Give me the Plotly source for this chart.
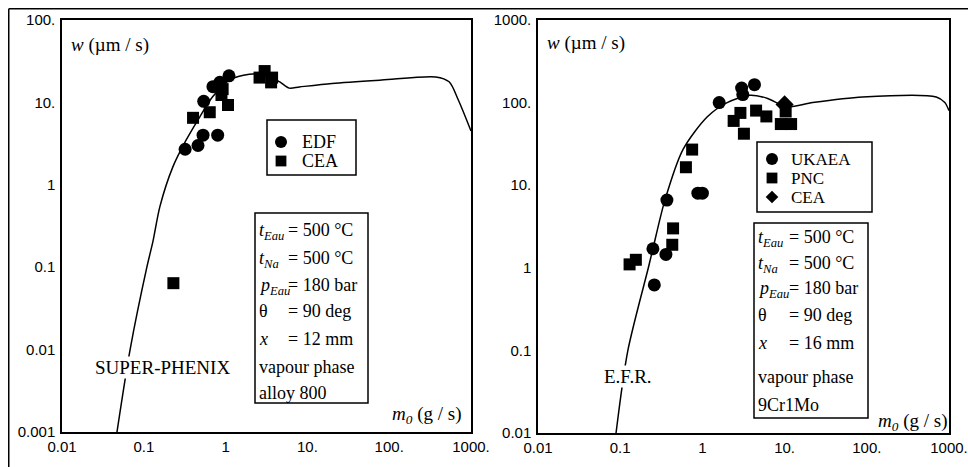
import plotly.graph_objects as go

W, H = 968, 467

# ---------------- data: left panel (SUPER-PHENIX) ----------------
sp_curve_m0 = [0.047, 0.068, 0.109, 0.13, 0.157, 0.226, 0.33, 0.48, 0.69, 1.12, 1.95, 3.2, 4.6, 6.0, 8.0, 20, 81, 370, 540, 700, 1000]
sp_curve_w = [0.001, 0.01, 0.1, 0.21, 0.54, 1.64, 3.5, 6.6, 11.6, 18.7, 22.0, 21.4, 17.7, 14.9, 15.4, 17.0, 18.7, 20.4, 17.8, 10.7, 4.5]
edf_m0 = [0.32, 0.46, 0.53, 0.80, 0.54, 0.70, 0.85, 1.10]
edf_w = [2.7, 3.0, 4.0, 4.0, 10.3, 15.5, 17.5, 21.0]
cea_sp_m0 = [0.23, 0.40, 0.64, 1.07, 0.89, 0.92, 2.6, 3.0, 3.7, 3.6]
cea_sp_w = [0.064, 6.5, 7.6, 9.3, 12.3, 14.5, 20.0, 24.0, 20.0, 17.5]

# ---------------- data: right panel (E.F.R.) ----------------
efr_curve_m0 = [0.089, 0.124, 0.22, 0.25, 0.35, 0.58, 1.14, 2.0, 3.8, 6.1, 10.7, 22, 89, 700, 890, 1000]
efr_curve_w = [0.01, 0.1, 1.0, 1.7, 6.6, 27, 67, 100, 123, 113, 89, 100, 117, 117, 100, 80]
ukaea_m0 = [0.37, 1.6, 3.0, 4.3, 3.1, 0.88, 1.0, 0.25, 0.36, 0.26]
ukaea_w = [6.6, 100, 150, 165, 125, 8.0, 8.0, 1.7, 1.45, 0.62]
pnc_m0 = [0.13, 0.155, 0.43, 0.44, 0.63, 0.75, 2.4, 2.9, 3.2, 4.5, 6.0, 9.0, 12.0, 10.3]
pnc_w = [1.1, 1.25, 1.9, 3.0, 16.5, 27, 60, 75, 42, 80, 68, 55, 55, 78]
cea_efr_m0 = [10.0]
cea_efr_w = [95]

x_tickvals = [0.01, 0.1, 1, 10, 100, 1000]
x_ticktext = ["0.01", "0.1", "1", "10.", "100.", "1000."]
yl_tickvals = [0.001, 0.01, 0.1, 1, 10, 100]
yl_ticktext = ["0.001", "0.01", "0.1", "1", "10.", "100."]
yr_tickvals = [0.01, 0.1, 1, 10, 100, 1000]
yr_ticktext = ["0.01", "0.1", "1", "10.", "100.", "1000."]

legend_sp = [("circle", "EDF"), ("square", "CEA")]
legend_efr = [("circle", "UKAEA"), ("square", "PNC"), ("diamond", "CEA")]

params_sp = [("<i>t</i><sub><i>Eau</i></sub>", "= 500 °C"),
             ("<i>t</i><sub><i>Na</i></sub>", "= 500 °C"),
             ("<i>p</i><sub><i>Eau</i></sub>", "= 180 bar"),
             ("θ", "= 90 deg"),
             ("<i>x</i>", "= 12 mm"),
             ("vapour phase", ""),
             ("alloy 800", "")]
params_efr = [("<i>t</i><sub><i>Eau</i></sub>", "= 500 °C"),
              ("<i>t</i><sub><i>Na</i></sub>", "= 500 °C"),
              ("<i>p</i><sub><i>Eau</i></sub>", "= 180 bar"),
              ("θ", "= 90 deg"),
              ("<i>x</i>", "= 16 mm"),
              ("vapour phase", ""),
              ("9Cr1Mo", "")]

SERIF = "Liberation Serif"
SANS = "Liberation Sans"


def px(x):
    return x / W


def py(y):
    return 1 - y / H


fig = go.Figure()

line_style = dict(color="black", width=1.5, shape="spline", smoothing=0.8)
fig.add_trace(go.Scatter(x=sp_curve_m0, y=sp_curve_w, mode="lines", line=line_style,
                         showlegend=False, xaxis="x", yaxis="y", hoverinfo="skip"))
fig.add_trace(go.Scatter(x=edf_m0, y=edf_w, mode="markers", name="EDF", showlegend=False,
                         marker=dict(symbol="circle", size=13, color="black"),
                         xaxis="x", yaxis="y"))
fig.add_trace(go.Scatter(x=cea_sp_m0, y=cea_sp_w, mode="markers", name="CEA", showlegend=False,
                         marker=dict(symbol="square", size=12, color="black"),
                         xaxis="x", yaxis="y"))

fig.add_trace(go.Scatter(x=efr_curve_m0, y=efr_curve_w, mode="lines", line=line_style,
                         showlegend=False, xaxis="x2", yaxis="y2", hoverinfo="skip"))
fig.add_trace(go.Scatter(x=ukaea_m0, y=ukaea_w, mode="markers", name="UKAEA", showlegend=False,
                         marker=dict(symbol="circle", size=13, color="black"),
                         xaxis="x2", yaxis="y2"))
fig.add_trace(go.Scatter(x=pnc_m0, y=pnc_w, mode="markers", name="PNC", showlegend=False,
                         marker=dict(symbol="square", size=12, color="black"),
                         xaxis="x2", yaxis="y2"))
fig.add_trace(go.Scatter(x=cea_efr_m0, y=cea_efr_w, mode="markers", name="CEA", showlegend=False,
                         marker=dict(symbol="diamond", size=14, color="black"),
                         xaxis="x2", yaxis="y2"))

axis_common = dict(type="log", showgrid=False, zeroline=False, showline=True,
                   linecolor="black", linewidth=1.5, mirror=True, ticks="",
                   automargin=False, ticklabeloverflow="allow",
                   tickfont=dict(family=SANS, size=15, color="black"))

fig.update_layout(
    width=W, height=H,
    margin=dict(l=0, r=0, t=0, b=0, pad=0, autoexpand=False),
    paper_bgcolor="white", plot_bgcolor="white",
    showlegend=False,
    xaxis=dict(axis_common, domain=[px(62), px(471)], range=[-2, 3], anchor="y",
               tickvals=x_tickvals, ticktext=x_ticktext),
    yaxis=dict(axis_common, domain=[py(432), py(20)], range=[-3, 2], anchor="x",
               tickvals=yl_tickvals, ticktext=yl_ticktext, ticklabelstandoff=2),
    xaxis2=dict(axis_common, domain=[px(538), px(949)], range=[-2, 3], anchor="y2",
                tickvals=x_tickvals, ticktext=x_ticktext),
    yaxis2=dict(axis_common, domain=[py(433), py(20)], range=[-2, 3], anchor="x2",
                tickvals=yr_tickvals, ticktext=yr_ticktext, ticklabelstandoff=2),
)

annotations = []
shapes = []


def text(x, y, s, xanchor="left", yanchor="middle", size=19, bg=None, family=SERIF):
    d = dict(x=px(x), y=py(y), xref="paper", yref="paper", text=s, showarrow=False,
             xanchor=xanchor, yanchor=yanchor, borderpad=0,
             font=dict(family=family, size=size, color="black"))
    if bg:
        d["bgcolor"] = bg
    annotations.append(d)


def box(left, top, right, bottom):
    shapes.append(dict(type="rect", xref="paper", yref="paper",
                       x0=px(left), x1=px(right), y0=py(bottom), y1=py(top),
                       line=dict(color="black", width=1.5), fillcolor="white", layer="above"))


def key_symbol(kind, cx, cy, r):
    # legend key glyph drawn as a shape (decoration, not data)
    if kind == "circle":
        shapes.append(dict(type="circle", xref="paper", yref="paper",
                           x0=px(cx - r), x1=px(cx + r), y0=py(cy + r), y1=py(cy - r),
                           fillcolor="black", line=dict(width=0), layer="above"))
    elif kind == "square":
        s = r * 0.9
        shapes.append(dict(type="rect", xref="paper", yref="paper",
                           x0=px(cx - s), x1=px(cx + s), y0=py(cy + s), y1=py(cy - s),
                           fillcolor="black", line=dict(width=0), layer="above"))
    else:
        d = r * 1.05
        path = "M {} {} L {} {} L {} {} L {} {} Z".format(
            px(cx), py(cy - d), px(cx + d), py(cy), px(cx), py(cy + d), px(cx - d), py(cy))
        shapes.append(dict(type="path", xref="paper", yref="paper", path=path,
                           fillcolor="black", line=dict(width=0), layer="above"))


def legend_box(left, top, right, bottom, rows, row_ys, sym_x, txt_x, size):
    box(left, top, right, bottom)
    for (sym, lab), yc in zip(rows, row_ys):
        key_symbol(sym, sym_x, yc, 6)
        text(txt_x, yc, lab, size=size)


def param_box(left, top, right, bottom, rows, line_ys, value_dx):
    box(left, top, right, bottom)
    for (lab, val), yc in zip(rows, line_ys):
        text(left + 3, yc - 11, lab, yanchor="top", size=18)
        if val:
            text(left + value_dx, yc - 11, val, yanchor="top", size=18)


# left panel texts
text(70, 45, "<i>w</i> (µm / s)")
text(162, 367, "SUPER-PHENIX", xanchor="center", bg="white")
text(462, 415, "<i>m</i><sub><i>0</i></sub> (g / s)", xanchor="right")
legend_box(267, 120, 356, 175, legend_sp, [142, 161], 281, 301, 18)
param_box(255, 213, 368, 403, params_sp, [230, 258, 285, 311, 339, 367, 393], 32)

# right panel texts
text(546, 43, "<i>w</i> (µm / s)")
text(628, 376, "E.F.R.", xanchor="center", bg="white")
text(948, 422, "<i>m</i><sub><i>0</i></sub> (g / s)", xanchor="right")
legend_box(757, 142, 872, 212, legend_efr, [159, 178, 197], 772, 790, 17)
param_box(754, 223, 868, 418, params_efr, [237, 263, 288, 315, 343, 377, 405], 34)

# outer frame (top and left edges of the scanned figure)
shapes.append(dict(type="line", xref="paper", yref="paper", x0=px(8.75), x1=1, y0=py(8.75), y1=py(8.75),
                   line=dict(color="black", width=1.5)))
shapes.append(dict(type="line", xref="paper", yref="paper", x0=px(8.75), x1=px(8.75), y0=0, y1=py(8.75),
                   line=dict(color="black", width=1.5)))

fig.update_layout(annotations=annotations, shapes=shapes)

# remove the browser's default body margin so the 968x467 figure fills the window
fig.write_html("out.html",
               config={"displayModeBar": False},
               post_script="document.body.style.margin='0';document.body.style.overflow='hidden';")
